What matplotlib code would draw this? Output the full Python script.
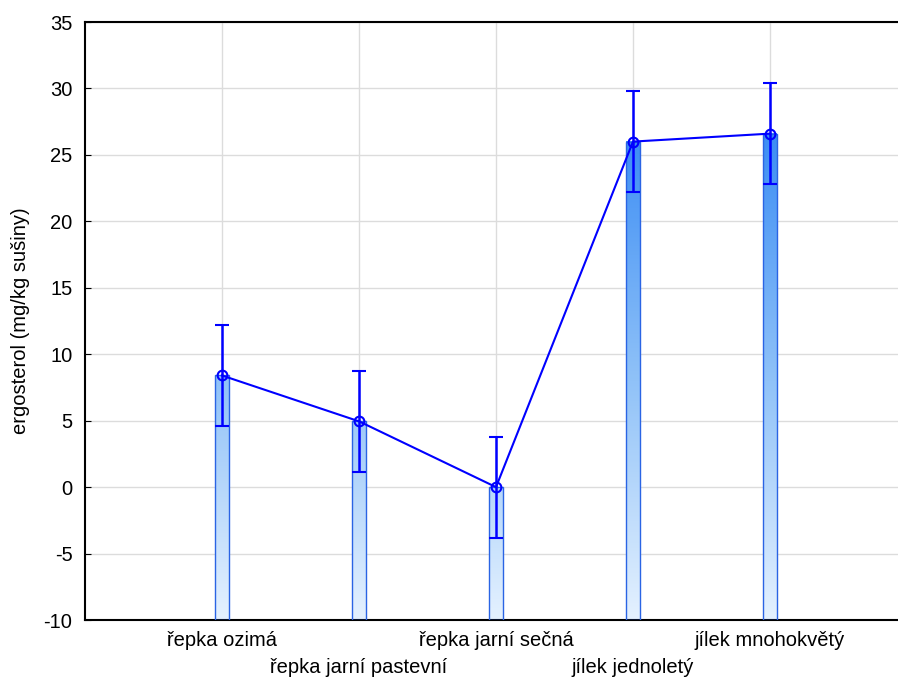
import matplotlib.pyplot as plt
import numpy as np
from matplotlib.colors import LinearSegmentedColormap

plt.rcParams['font.family'] = ['Liberation Sans', 'DejaVu Sans']
plt.rcParams['axes.unicode_minus'] = False

# Data
categories = ["řepka ozimá", "řepka jarní pastevní", "řepka jarní sečná",
              "jílek jednoletý", "jílek mnohokvětý"]
means = [8.4, 4.95, 0.0, 26.0, 26.6]
errors = [3.8, 3.8, 3.8, 3.8, 3.8]

x = np.arange(1, len(categories) + 1)
ymin, ymax = -10, 35

fig = plt.figure(figsize=(8.98, 6.78), dpi=100)
ax = fig.add_axes([85 / 898, 58 / 678, 822 / 898, 598 / 678])

# gradient colour follows the y value: light at the bottom, strong blue at the top
ctop = 27
cmap = LinearSegmentedColormap.from_list(
    "blu", [(0, "#e4f1ff"), ((8 - ymin) / (ctop - ymin), "#90c2f8"), (1, "#3a8cf4")])
bw = 0.1
for xi, m in zip(x, means):
    frac = (m - ymin) / (ctop - ymin)
    img = np.linspace(0, frac, 256).reshape(-1, 1)
    ax.imshow(img, cmap=cmap, vmin=0, vmax=1, origin="lower", aspect="auto",
              extent=[xi - bw / 2, xi + bw / 2, ymin, m], zorder=2)
    ax.add_patch(plt.Rectangle((xi - bw / 2, ymin), bw, m - ymin, fill=False,
                               edgecolor="#2a64e4", linewidth=1, zorder=3))

ax.errorbar(x, means, yerr=errors, color="#0000ff", linewidth=1.5,
            elinewidth=1.8, capsize=4.8, capthick=1.8, marker="o", markersize=7,
            markerfacecolor="none", markeredgewidth=1.5, zorder=4)

ax.set_xlim(0, 6)
ax.set_ylim(ymin, ymax)
ax.set_yticks(np.arange(-10, 36, 5))
ax.set_xticks(x)
ax.set_xticklabels(categories)
ax.tick_params(direction="in", length=4, labelsize=14.5, color="black")
ax.tick_params(axis="y", pad=9)
# staggered labels: every second one goes on a lower row
for i, t in enumerate(ax.xaxis.get_major_ticks()):
    t.set_pad(8 if i % 2 == 0 else 27.5)
ax.grid(True, color="#dcdcdc", linewidth=1, zorder=0)
ax.set_axisbelow(True)
for s in ax.spines.values():
    s.set_linewidth(1.5)
ax.set_ylabel("ergosterol (mg/kg sušiny)", fontsize=14.5, labelpad=10)

plt.savefig("out.png", dpi=100)
